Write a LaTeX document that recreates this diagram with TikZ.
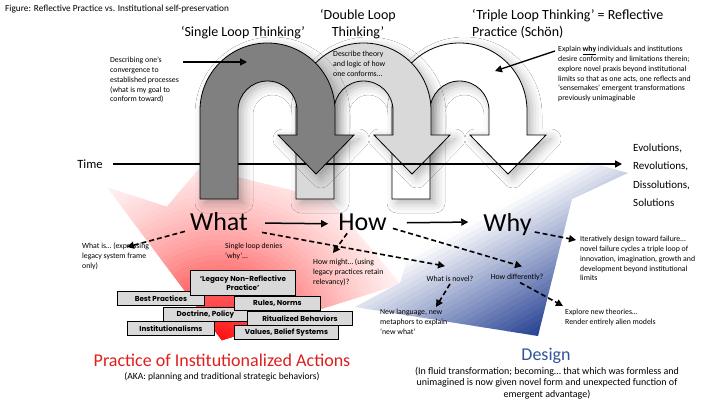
\documentclass[tikz,border=0pt]{standalone}
\usepackage{fontspec}
\setmainfont{Carlito}
\newfontfamily\boxfont{Poppins}
\usetikzlibrary{arrows.meta,%
                shadows.blur}

\definecolor{loopdark}{RGB}{128,128,128}
\definecolor{looplight}{RGB}{217,217,217}
\definecolor{boxgray}{RGB}{217,217,217}
\definecolor{legacyred}{RGB}{255,0,0}
\definecolor{designblue}{RGB}{34,62,145}
\definecolor{praxred}{RGB}{224,30,30}
\definecolor{designtext}{RGB}{47,85,151}

% one loop arrow, drawn round its own centre
\newcommand{\looppath}{(-67.5,88.5) -- (-67.5,0) arc[start angle=180,end angle=360,radius=67.5]
  -- (67.5,24.5) -- (86.5,24.5) -- (48.5,63.5) -- (10.5,24.5) -- (29.5,24.5)
  -- (29.5,0) arc[start angle=0,end angle=-180,radius=29.5] -- (-29.5,88.5) -- cycle}

\tikzset{
  loopedge/.style={draw, line width=0.8pt,
    blur shadow={shadow xshift=5pt, shadow yshift=-4pt, shadow blur radius=10pt, shadow opacity=30}},
  note/.style={font=\fontsize{7.8}{9.8}\selectfont, align=left, inner sep=0pt, anchor=north west},
  heading/.style={font=\fontsize{14}{17}\selectfont, inner sep=0pt},
  bigword/.style={font=\fontsize{26}{30}\selectfont, inner sep=0pt, anchor=base},
  practicebox/.style={draw, fill=boxgray, line width=0.9pt, inner sep=1pt, minimum height=14pt,
    anchor=north west, font=\boxfont\bfseries\fontsize{7.2}{8.6}\selectfont},
  dasharrow/.style={dash pattern=on 5pt off 3pt, line width=1.6pt, -{Triangle[length=7pt,width=7pt]}},
  solidarrow/.style={line width=1.5pt, -{Triangle[length=7pt,width=7pt]}},
  timeline/.style={line width=1.5pt, -{Triangle[length=7pt,width=7pt]}}
}

\begin{document}
\begin{tikzpicture}[x=1pt, y=-1pt]
\useasboundingbox (0,0) rectangle (720,405);
\fill[white] (0,0) rectangle (720,405);

% red arrow, fading out from its lower tip
\begin{scope}
  \clip (108,188) -- (167,207) -- (200,168) -- (330,200) -- (400,284) -- (222,340) -- cycle;
  \foreach \r in {45,...,1} {
    \pgfmathsetmacro\pct{100*(1-5*\r/230)^1.6}
    \fill[legacyred!\pct] (220,345) circle (5*\r);
  }
\end{scope}
% blue arrow, fading out towards the upper left
\begin{scope}
  \clip (355,307) -- (400,283) -- (425,200) -- (545,150) -- (628,173) -- (572,199) -- (538,336) -- cycle;
  \begin{scope}[shift={(540,336)}, rotate=29]
    \fill[designblue] (-400,0) rectangle (400,150);
    \foreach \i in {0,...,29} {
      \pgfmathsetmacro\pct{max(0,100-0.75*(5*\i+2.5))}
      \fill[designblue!\pct] (-400,-5*\i+0.6) rectangle (400,-5*\i-5);
    }
  \end{scope}
\end{scope}

% loops, back to front
\draw[loopedge, fill=white, shift={(459.5,110.5)}] \looppath;
\draw[loopedge, fill=looplight, shift={(363.5,110.5)}] \looppath;

\node[font=\fontsize{12.6}{15}\selectfont, inner sep=0pt] (time) at (90,164) {Time};
\node[font=\fontsize{11}{18.5}\selectfont, align=left, inner sep=0pt, anchor=west] (evol) at (633,175)
  {Evolutions,\\Revolutions,\\Dissolutions,\\Solutions};
\draw[timeline, shorten <=10pt, shorten >=11pt] (time.east) -- (time.east -| evol.west);

\draw[loopedge, fill=loopdark, shift={(267.5,110.5)}] \looppath;

% headings
\node[anchor=west, font=\fontsize{9.3}{11}\selectfont, inner sep=0pt] (title) at (5,9)
  {Figure: Reflective Practice vs. Institutional self-preservation};
\node[heading] (single) at (243,33) {‘Single Loop Thinking’};
\node[heading, align=center] (double) at (358,24.5) {‘Double Loop\\Thinking’};
\node[heading, align=left, anchor=west] (triple) at (472,23.5) {‘Triple Loop Thinking’ = Reflective\\Practice (Schön)};

% notes
\node[note] (convnote) at (110,57) {Describing one’s\\convergence to\\established processes\\(what is my goal to\\conform toward)};
\node[note] (dblnote) at (333,51) {Describe theory\\and logic of how\\one conforms…};
\node[note] (expnote) at (558,46) {Explain \underline{\textbf{why}} individuals and institutions\\desire conformity and limitations therein;\\explore novel praxis beyond institutional\\limits so that as one acts, one reflects and\\‘sensemakes’ emergent transformations\\previously unimaginable};
\coordinate (singlein) at (247,62);
\coordinate (triplein) at (495,71);
\draw[solidarrow] ([shift={(73,5)}]convnote.north west) -- (singlein);
\draw[line width=1.3pt, -{Triangle[length=7pt,width=7pt]}] ([shift={(-3,5)}]expnote.north west) -- (triplein);

% what, how, why
\node[bigword] (what) at (219,230) {What};
\node[bigword] (how) at (362.5,230) {How};
\node[bigword] (why) at (507.5,231) {Why};
\draw[solidarrow] ([shift={(17,2)}]what.east) -- ([shift={(-10,2)}]how.west);
\draw[solidarrow] ([shift={(20,1)}]how.east) -- ([shift={(-15,-2)}]why.west);

\node[note] (whatisnote) at (82,243) {What is… (expressing\\legacy system frame\\only)};
\node[note] (denynote) at (225,243) {Single loop denies\\‘why’…};
\node[note] (mightnote) at (313,259) {How might… (using\\legacy practices retain\\relevancy)?};
\node[note, anchor=center] (novelq) at (450,279) {What is novel?};
\node[note, anchor=center] (diffq) at (517,277) {How differently?};
\node[note] (newlang) at (380,309) {New language, new\\metaphors to explain\\‘new what’};
\node[note] (iternote) at (580,236) {Iteratively design toward failure…\\novel failure cycles a triple loop of\\innovation, imagination, growth and\\development beyond institutional\\limits};
\node[note] (explnote) at (565,309) {Explore new theories…\\Render entirely alien models};

\draw[dasharrow] ([shift={(-5,1)}]what.south west) -- ([shift={(45,4)}]whatisnote.north west);
\draw[dasharrow] ([shift={(14,2)}]what.south east) -- ([shift={(-5,-10)}]novelq.north);
\draw[dasharrow] ([shift={(9,3)}]how.south west) -- ([shift={(20,-6)}]mightnote.north west);
\draw[dasharrow] ([shift={(6,-2)}]how.south east) -- ([shift={(5,-7)}]diffq.north);
\draw[dasharrow] ([shift={(3,1)}]why.base east) -- ([shift={(-4,4)}]iternote.north west);
\draw[dasharrow] ([shift={(0,2)}]novelq.south) -- ([shift={(56,-2)}]newlang.north west);
\draw[dasharrow] ([shift={(3,2)}]diffq.south) -- ([shift={(-2,-3)}]explnote.north west);

% legacy practice boxes
\node[practicebox, minimum width=87pt] (bestpr) at (117,291) {Best Practices};
\node[practicebox, minimum width=87pt] (instit) at (127,321) {Institutionalisms};
\node[practicebox, minimum width=84pt] (doctr) at (163,307) {Doctrine, Policy};
\node[practicebox, minimum width=105pt, minimum height=25pt, align=center] (legacy) at (190,270) {‘Legacy Non-Reflective\\Practice’};
\node[practicebox, minimum width=86pt] (rules) at (234,296) {Rules, Norms};
\node[practicebox, minimum width=105pt] (ritual) at (247,311) {Ritualized Behaviors};
\node[practicebox, minimum width=104pt] (values) at (234,325) {Values, Belief Systems};

% captions
\node[font=\fontsize{18}{21}\selectfont, text=praxred, inner sep=0pt] (practice) at (222,360) {Practice of Institutionalized Actions};
\node[font=\fontsize{9.6}{11.5}\selectfont, inner sep=0pt] (aka) at (222,377) {(AKA: planning and traditional strategic behaviors)};
\node[font=\fontsize{18}{21}\selectfont, text=designtext, inner sep=0pt] (design) at (546,356) {Design};
\node[font=\fontsize{10}{11.7}\selectfont, align=center, inner sep=0pt] (designnote) at (547,383)
  {(In fluid transformation; becoming… that which was formless and\\unimagined is now given novel form and unexpected function of\\emergent advantage)};
\end{tikzpicture}
\end{document}
